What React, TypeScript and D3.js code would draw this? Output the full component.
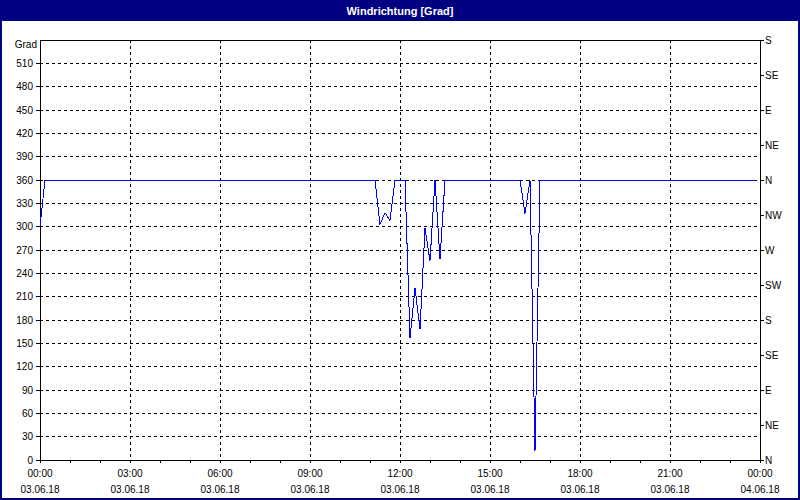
import React from "react";
import * as d3 from "d3";

// Time of each sample in minutes after 03.06.18 00:00, and wind direction in degrees
const sampleMinutes = [0, 10, 670, 680, 690, 700, 710, 730, 740, 750, 760, 770, 780, 790, 800, 810, 960, 970, 980, 990, 1000, 1430];
const windDirection = [300, 360, 360, 303, 318, 308, 360, 360, 157, 221, 168, 298, 256, 360, 258, 360, 360, 317, 360, 12, 360, 360];

const yTicks = [0, 30, 60, 90, 120, 150, 180, 210, 240, 270, 300, 330, 360, 390, 420, 450, 480, 510];
const compassValues = [0, 45, 90, 135, 180, 225, 270, 315, 360, 405, 450, 495, 540];
const compassLabels = ["N", "NE", "E", "SE", "S", "SW", "W", "NW", "N", "NE", "E", "SE", "S"];
const xTickMinutes = [0, 180, 360, 540, 720, 900, 1080, 1260, 1440];
const xTickTimes = ["00:00", "03:00", "06:00", "09:00", "12:00", "15:00", "18:00", "21:00", "00:00"];
const xTickDates = ["03.06.18", "03.06.18", "03.06.18", "03.06.18", "03.06.18", "03.06.18", "03.06.18", "03.06.18", "04.06.18"];
const hourMinutes = d3.range(0, 1441, 60);

const W = 800;
const H = 500;
const L = 40, R = 760, T = 40, B = 460;

export default function App() {
  const x = d3.scaleLinear().domain([0, 1440]).range([L, R]);
  const y = d3.scaleLinear().domain([0, 540]).range([B, T]);
  const pts: [number, number][] = sampleMinutes.map((m, i) => [m, windDirection[i]]);
  const line = d3.line<[number, number]>().x(d => x(d[0])).y(d => y(d[1]));
  const font = "'Liberation Sans', Arial, sans-serif";

  return (
    <svg width={W} height={H} style={{ position: "absolute", left: 0, top: 0, background: "#fff" }} fontFamily={font}>
      <rect x={0} y={0} width={W} height={H} fill="#ffffff" />
      {/* title bar */}
      <rect x={0} y={0} width={W} height={21} fill="#000080" />
      <text x={400} y={14.5} fill="#fff" fontSize={11} fontWeight="bold" textAnchor="middle">Windrichtung [Grad]</text>
      {/* window border */}
      <rect x={1} y={1} width={W - 2} height={H - 2} fill="none" stroke="#000080" strokeWidth={2} />

      {/* horizontal grid */}
      {yTicks.filter(v => v > 0).map(v => (
        <line key={"hg" + v} x1={L} x2={R} y1={y(v)} y2={y(v)} stroke="#000" strokeDasharray="3,3" shapeRendering="crispEdges" />
      ))}
      {/* vertical grid */}
      {xTickMinutes.filter(m => m > 0 && m < 1440).map(m => (
        <line key={"vg" + m} x1={x(m)} x2={x(m)} y1={T} y2={B} stroke="#000" strokeDasharray="3,3" shapeRendering="crispEdges" />
      ))}

      {/* plot frame */}
      <rect x={L} y={T} width={R - L} height={B - T} fill="none" stroke="#000" shapeRendering="crispEdges" />

      {/* data */}
      <path d={line(pts) || ""} fill="none" stroke="#0000ff" strokeWidth={1} shapeRendering="crispEdges" />

      {/* left axis */}
      <text x={37} y={48} fontSize={10} textAnchor="end" fill="#000">Grad</text>
      {yTicks.map(v => (
        <g key={"yl" + v}>
          <line x1={L - 4} x2={L} y1={y(v)} y2={y(v)} stroke="#000" shapeRendering="crispEdges" />
          <text x={33} y={y(v)} dy="0.35em" fontSize={10} textAnchor="end" fill="#000">{v}</text>
        </g>
      ))}

      {/* right axis */}
      {compassValues.map((v, i) => (
        <g key={"cl" + i}>
          <line x1={R} x2={R + 4} y1={y(v)} y2={y(v)} stroke="#000" shapeRendering="crispEdges" />
          <text x={765} y={y(v)} dy="0.35em" fontSize={10} textAnchor="start" fill="#000">{compassLabels[i]}</text>
        </g>
      ))}

      {/* bottom axis */}
      {hourMinutes.map(m => (
        <line key={"ht" + m} x1={x(m)} x2={x(m)} y1={B} y2={B + 3} stroke="#000" shapeRendering="crispEdges" />
      ))}
      {xTickMinutes.map((m, i) => (
        <g key={"xl" + i}>
          <text x={x(m)} y={477} fontSize={10} textAnchor="middle" fill="#000">{xTickTimes[i]}</text>
          <text x={x(m)} y={493} fontSize={10} textAnchor="middle" fill="#000">{xTickDates[i]}</text>
        </g>
      ))}
    </svg>
  );
}
